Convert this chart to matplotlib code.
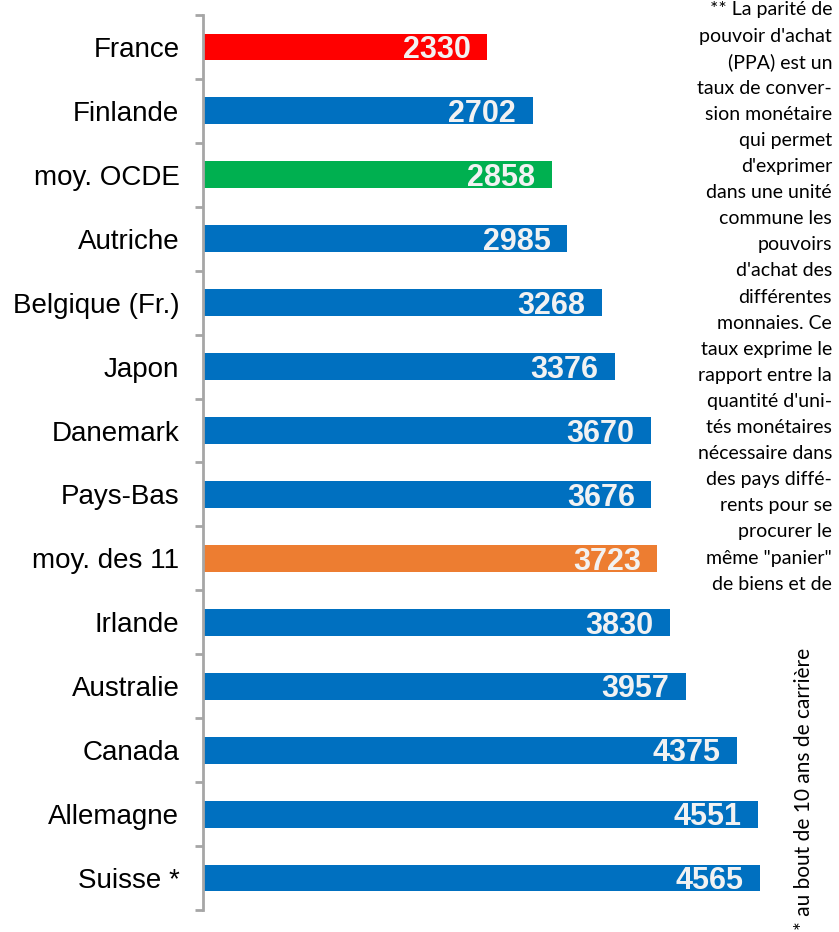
import matplotlib
matplotlib.use("Agg")
import matplotlib.pyplot as plt
import numpy as np

# Data (top to bottom)
countries = ["France", "Finlande", "moy. OCDE", "Autriche", "Belgique (Fr.)",
             "Japon", "Danemark", "Pays-Bas", "moy. des 11", "Irlande",
             "Australie", "Canada", "Allemagne", "Suisse *"]
salaries = [2330, 2702, 2858, 2985, 3268, 3376, 3670, 3676, 3723, 3830,
            3957, 4375, 4551, 4565]
bar_colors = ["#FF0000", "#0070C0", "#00B050", "#0070C0", "#0070C0",
              "#0070C0", "#0070C0", "#0070C0", "#ED7D31", "#0070C0",
              "#0070C0", "#0070C0", "#0070C0", "#0070C0"]

note_lines = ["** La parité de", "pouvoir d'achat", "(PPA) est un",
              "taux de conver-", "sion monétaire", "qui permet",
              "d'exprimer", "dans une unité", "commune les", "pouvoirs",
              "d'achat des", "différentes", "monnaies. Ce",
              "taux exprime le", "rapport entre la", "quantité d'uni-",
              "tés monétaires", "nécessaire dans", "des pays diffé-",
              "rents pour se", "procurer le", "même \"panier\"",
              "de biens et de"]
side_note = "* au bout de 10 ans de carrière"

W, H = 839, 932
fig = plt.figure(figsize=(W / 100, H / 100), dpi=100)
ax = fig.add_axes([203 / W, 1 - 910 / H, 610 / W, (910 - 15) / H])

y = np.arange(len(countries))
ax.barh(y, salaries, height=0.42, color=bar_colors, zorder=2)
ax.set_ylim(len(countries) - 0.5, -0.5)
ax.set_xlim(0, 5000)

# value labels inside the bar ends
for yi, v in zip(y, salaries):
    ax.text(v - 135, yi + 0.05, str(v), ha="right", va="center",
            fontsize=22, fontweight="bold", color="#F2F2F2",
            family="Liberation Sans", zorder=3)

for side in ["top", "right", "bottom"]:
    ax.spines[side].set_visible(False)
ax.spines["left"].set_color("#A6A6A6")
ax.spines["left"].set_linewidth(2)
ax.set_xticks([])

ax.set_yticks(y)
ax.set_yticklabels(countries, fontsize=20, family="Liberation Sans")
ax.tick_params(axis="y", which="major", length=0, pad=17)
ax.set_yticks(np.arange(len(countries) + 1) - 0.5, minor=True)
ax.tick_params(axis="y", which="minor", length=6, width=2, color="#A6A6A6")

# explanatory note on the right
for i, line in enumerate(note_lines):
    fig.text(832 / W, 1 - (10 + i * 26.1) / H, line, ha="right", va="center",
             fontsize=14, family="Lato", color="black")

fig.text(804 / W, 1 - 930 / H, side_note, rotation=90, ha="center",
         va="bottom", fontsize=15, family="Lato", color="black")

fig.savefig("out.png", dpi=100)
